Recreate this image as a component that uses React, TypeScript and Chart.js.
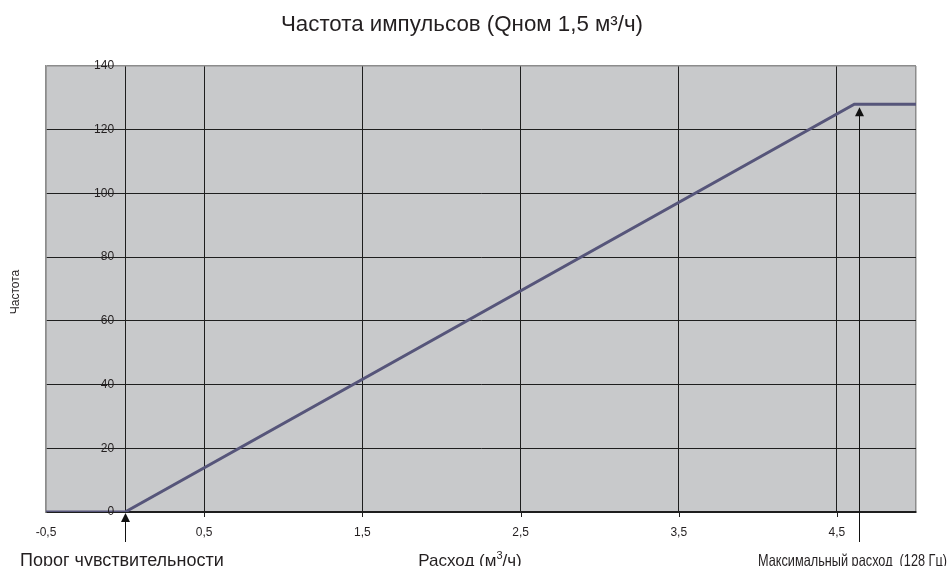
import { useEffect, useRef } from 'react';
import { Chart, registerables } from 'chart.js';

Chart.register(...registerables);

// ---- data ----
const flowValues = [-0.5, 0, 4.61, 5];
const frequencyValues = [0, 0, 128, 128];
const xTickValues = [-0.5, 0.5, 1.5, 2.5, 3.5, 4.5];
const xTickLabels = ['-0,5', '0,5', '1,5', '2,5', '3,5', '4,5'];
const xGridValues = [-0.5, 0, 0.5, 1.5, 2.5, 3.5, 4.5, 5];
const yTickValues = [0, 20, 40, 60, 80, 100, 120, 140];
const yTickLabels = ['0', '20', '40', '60', '80', '100', '120', '140'];
const thresholdFlow = 0;
const maxFlow = 4.64;
const maxFrequency = 128;
const titleText = 'Частота импульсов (Qном 1,5 м³/ч)';
const yTitleText = 'Частота';
const thresholdLabel = 'Порог чувствительности';
const xTitleMain = 'Расход (м';
const xTitleSup = '3';
const xTitleEnd = '/ч)';
const maxFlowLabel = 'Максимальный расход  (128 Гц)';

const FONT = '"Liberation Sans", Arial, sans-serif';
const TEXT = '#231f20';
const GRID_DARK = '#1e1e1e';
const EDGE_GRAY = '#8c8c8c';

function drawArrow(ctx: CanvasRenderingContext2D, x: number, tipY: number, endY: number) {
  const headH = 9;
  const halfW = 4.5;
  ctx.save();
  ctx.strokeStyle = '#111';
  ctx.fillStyle = '#111';
  ctx.lineWidth = 1;
  ctx.beginPath();
  ctx.moveTo(x, tipY + headH - 1);
  ctx.lineTo(x, endY);
  ctx.stroke();
  ctx.beginPath();
  ctx.moveTo(x, tipY);
  ctx.lineTo(x - halfW, tipY + headH);
  ctx.lineTo(x + halfW, tipY + headH);
  ctx.closePath();
  ctx.fill();
  ctx.restore();
}

const decorPlugin = {
  id: 'decor',
  beforeDraw(chart: any) {
    const { ctx, chartArea } = chart;
    ctx.save();
    ctx.fillStyle = '#c8c9cb';
    ctx.fillRect(chartArea.left, chartArea.top, chartArea.right - chartArea.left, chartArea.bottom - chartArea.top);
    ctx.restore();
  },
  afterDraw(chart: any) {
    const { ctx, chartArea } = chart;
    const xs = chart.scales.x;
    const ys = chart.scales.y;
    const axisX = xs.getPixelForValue(0);
    ctx.save();
    ctx.fillStyle = TEXT;

    // y tick labels (at the value axis, which crosses at x = 0)
    ctx.font = `12px ${FONT}`;
    ctx.textAlign = 'right';
    ctx.textBaseline = 'middle';
    yTickValues.forEach((v, i) => {
      ctx.fillText(yTickLabels[i], axisX - 11, ys.getPixelForValue(v));
    });

    // x tick marks and labels
    ctx.strokeStyle = GRID_DARK;
    ctx.lineWidth = 1;
    ctx.textAlign = 'center';
    xTickValues.forEach((v, i) => {
      const px = xs.getPixelForValue(v);
      if (v !== -0.5) {
        ctx.beginPath();
        ctx.moveTo(Math.round(px) + 0.5, chartArea.bottom);
        ctx.lineTo(Math.round(px) + 0.5, chartArea.bottom + 5);
        ctx.stroke();
      }
      ctx.fillText(xTickLabels[i], px, chartArea.bottom + 21);
    });

    // arrows
    drawArrow(ctx, Math.round(xs.getPixelForValue(thresholdFlow)) + 0.5, ys.getPixelForValue(0) + 1, chartArea.bottom + 30);
    drawArrow(ctx, Math.round(xs.getPixelForValue(maxFlow)) + 0.5, ys.getPixelForValue(maxFrequency) + 3, chartArea.bottom + 30);

    // title
    ctx.font = `22.3px ${FONT}`;
    ctx.textAlign = 'center';
    ctx.textBaseline = 'alphabetic';
    ctx.fillText(titleText, 462, 30.5);

    // y axis title
    ctx.save();
    ctx.font = `12px ${FONT}`;
    ctx.translate(16, 292);
    ctx.rotate(-Math.PI / 2);
    ctx.textAlign = 'center';
    ctx.textBaseline = 'middle';
    ctx.fillText(yTitleText, 0, 0);
    ctx.restore();

    // bottom labels
    const baseY = 566;
    ctx.font = `18px ${FONT}`;
    ctx.textBaseline = 'alphabetic';
    ctx.textAlign = 'left';
    ctx.fillText(thresholdLabel, 20, baseY);
    ctx.font = `16.5px ${FONT}`;
    ctx.textAlign = 'right';
    ctx.fillText(maxFlowLabel, 947, baseY, 189);

    // x axis title with superscript
    ctx.font = `17px ${FONT}`;
    ctx.textAlign = 'left';
    const wMain = ctx.measureText(xTitleMain).width;
    const wEnd = ctx.measureText(xTitleEnd).width;
    ctx.font = `11px ${FONT}`;
    const wSup = ctx.measureText(xTitleSup).width;
    const total = wMain + wSup + wEnd;
    const startX = 470 - total / 2;
    ctx.font = `17px ${FONT}`;
    ctx.fillText(xTitleMain, startX, baseY);
    ctx.fillText(xTitleEnd, startX + wMain + wSup, baseY);
    ctx.font = `11px ${FONT}`;
    ctx.fillText(xTitleSup, startX + wMain, baseY - 7);

    ctx.restore();
  },
};

export default function App() {
  const canvasRef = useRef<HTMLCanvasElement | null>(null);

  useEffect(() => {
    if (!canvasRef.current) return;
    const chart = new Chart(canvasRef.current, {
      type: 'scatter',
      data: {
        datasets: [
          {
            data: flowValues.map((x, i) => ({ x, y: frequencyValues[i] })),
            showLine: true,
            borderColor: '#56557a',
            backgroundColor: '#56557a',
            borderWidth: 3,
            pointRadius: 0,
            tension: 0,
          },
        ],
      },
      options: {
        animation: false,
        responsive: false,
        events: [],
        layout: { padding: { left: 46, top: 66, right: 32, bottom: 54 } },
        plugins: { legend: { display: false }, tooltip: { enabled: false } },
        scales: {
          x: {
            type: 'linear',
            min: -0.5,
            max: 5,
            afterBuildTicks: (scale: any) => {
              scale.ticks = xGridValues.map((v) => ({ value: v }));
            },
            ticks: { display: false },
            grid: {
              drawTicks: false,
              color: (c: any) => (c.tick && (c.tick.value === -0.5 || c.tick.value === 5) ? EDGE_GRAY : GRID_DARK),
              lineWidth: (c: any) => (c.tick && (c.tick.value === -0.5 || c.tick.value === 5) ? 1.5 : 1),
            },
            border: { display: true, color: GRID_DARK, width: 2 },
          },
          y: {
            type: 'linear',
            min: 0,
            max: 140,
            afterBuildTicks: (scale: any) => {
              scale.ticks = yTickValues.map((v) => ({ value: v }));
            },
            ticks: { display: false },
            grid: {
              drawTicks: false,
              color: (c: any) => (c.tick && c.tick.value === 140 ? EDGE_GRAY : GRID_DARK),
              lineWidth: (c: any) => (c.tick && c.tick.value === 140 ? 1.5 : 1),
            },
            border: { display: true, color: EDGE_GRAY, width: 1.5 },
          },
        },
      },
      plugins: [decorPlugin],
    });
    return () => chart.destroy();
  }, []);

  return (
    <div style={{ position: 'fixed', left: 0, top: 0, width: 948, height: 566, background: '#fff' }}>
      <canvas ref={canvasRef} width={948} height={566} style={{ display: 'block' }} />
    </div>
  );
}
